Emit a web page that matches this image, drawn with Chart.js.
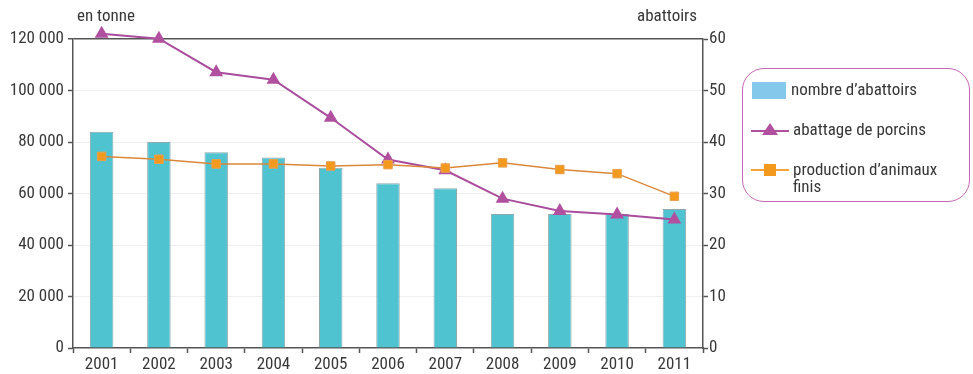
<!DOCTYPE html>
<html lang="fr">
<head>
<meta charset="utf-8">
<script src="https://cdn.jsdelivr.net/npm/chart.js@4/dist/chart.umd.min.js"></script>
<style>
  html, body { margin: 0; padding: 0; background: #fff; }
  #wrap { position: relative; width: 973px; height: 374px; }
  #chart { position: absolute; left: 0; top: 0; }
  .legend {
    position: absolute; left: 742px; top: 68px; width: 228px; height: 134px;
    box-sizing: border-box; border: 1px solid #c566b0; border-radius: 22px;
    font-family: 'Liberation Sans Narrow', 'Arial Narrow', 'Roboto Condensed', sans-serif;
    font-size: 17px; color: #383838;
  }
  .item { position: absolute; left: 8px; display: flex; align-items: flex-start; }
  .item svg { flex: none; }
  .item span { line-height: 17px; margin-left: 4px; }
</style>
</head>
<body>
<div id="wrap">
  <canvas id="chart" width="973" height="374"></canvas>
  <div class="legend">
    <div class="item" style="top:12px"><svg width="36" height="18"><rect x="1" y="1" width="34" height="17" fill="#84c9ec"/></svg><span>nombre d’abattoirs</span></div>
    <div class="item" style="top:52px"><svg width="38" height="18"><line x1="0" y1="10" x2="38" y2="10" stroke="#b0509f" stroke-width="2"/><polygon points="19,2 27,14 11,14" fill="#b0509f"/></svg><span>abattage de porcins</span></div>
    <div class="item" style="top:92px"><svg width="38" height="18"><line x1="0" y1="9" x2="38" y2="9" stroke="#f5a33a" stroke-width="2"/><rect x="13" y="3" width="12" height="12" fill="#f39a1e"/></svg><span>production d’animaux<br>finis</span></div>
  </div>
</div>
<script>
// Years on the horizontal axis
const years = ['2001','2002','2003','2004','2005','2006','2007','2008','2009','2010','2011'];
// Number of slaughterhouses (right axis)
const nombreAbattoirs = [42, 40, 38, 37, 35, 32, 31, 26, 26, 26, 27];
// Pig slaughtering, tonnes (left axis)
const abattagePorcins = [122000, 120100, 107100, 104200, 89400, 73200, 69000, 58000, 53200, 51800, 49900];
// Finished-animal production, tonnes (left axis)
const productionAnimaux = [74400, 73300, 71500, 71500, 70700, 71200, 69900, 71900, 69300, 67700, 58900];
// Axis tick values
const tonneTicks = [0, 20000, 40000, 60000, 80000, 100000, 120000];
const abattoirTicks = [0, 10, 20, 30, 40, 50, 60];

const FONT = "'Liberation Sans Narrow', 'Arial Narrow', 'Roboto Condensed', sans-serif";
const TXT = '#383838';
const AXIS = '#555';

const fmt = v => String(v).replace(/\B(?=(\d{3})+(?!\d))/g, ' ');

// Unit captions above each vertical axis
const unitTitles = {
  id: 'unitTitles',
  afterDraw(chart) {
    const { ctx, chartArea } = chart;
    ctx.save();
    ctx.font = '17px ' + FONT;
    ctx.fillStyle = TXT;
    ctx.textBaseline = 'middle';
    ctx.textAlign = 'left';
    ctx.fillText('en tonne', chartArea.left + 4, 17);
    ctx.textAlign = 'right';
    ctx.fillText('abattoirs', chartArea.right - 6, 17);
    ctx.restore();
  }
};

new Chart(document.getElementById('chart'), {
  data: {
    labels: years,
    datasets: [
      {
        type: 'line',
        label: 'production d’animaux finis',
        data: productionAnimaux,
        yAxisID: 'y',
        borderColor: '#d9883a',
        borderWidth: 1.5,
        pointStyle: 'rect',
        pointRadius: 6,
        pointBackgroundColor: '#f39a1e',
        pointBorderColor: '#e8a050',
        pointBorderWidth: 1,
        tension: 0,
        order: 0,
        clip: false
      },
      {
        type: 'line',
        label: 'abattage de porcins',
        data: abattagePorcins,
        yAxisID: 'y',
        borderColor: '#a94d9c',
        borderWidth: 2,
        pointStyle: 'triangle',
        pointRadius: 8,
        pointBackgroundColor: '#b0509f',
        pointBorderColor: '#b0509f',
        pointBorderWidth: 0,
        tension: 0,
        order: 1,
        clip: false
      },
      {
        type: 'bar',
        label: 'nombre d’abattoirs',
        data: nombreAbattoirs,
        yAxisID: 'y1',
        backgroundColor: '#4fc3d0',
        borderColor: '#8fa9ad',
        borderWidth: 1,
        barPercentage: 0.41,
        categoryPercentage: 1,
        order: 2
      }
    ]
  },
  options: {
    responsive: false,
    animation: false,
    events: [],
    layout: { padding: { top: 39, right: 240, left: 0, bottom: 0 } },
    plugins: { legend: { display: false }, tooltip: { enabled: false } },
    scales: {
      x: {
        offset: true,
        grid: { offset: true, drawOnChartArea: false, tickLength: 5, tickColor: AXIS, tickWidth: 1.5 },
        border: { color: AXIS, width: 1.5 },
        ticks: { color: TXT, font: { family: FONT, size: 17 }, padding: 2, maxRotation: 0 },
        afterFit: s => { s.height = 26; }
      },
      y: {
        position: 'left',
        min: 0, max: 120000,
        afterBuildTicks: s => { s.ticks = tonneTicks.map(v => ({ value: v })); },
        grid: {
          color: c => c.tick.value === 120000 ? AXIS : (c.tick.value === 0 ? 'rgba(0,0,0,0)' : '#efefef'),
          lineWidth: c => c.tick.value === 120000 ? 1.5 : 1,
          tickLength: 5, tickColor: AXIS, tickWidth: 1.5
        },
        border: { color: AXIS, width: 1.5 },
        ticks: { color: TXT, font: { family: FONT, size: 17 }, padding: 4, callback: v => fmt(v) },
        afterFit: s => { s.width = 73; }
      },
      y1: {
        position: 'right',
        min: 0, max: 60,
        afterBuildTicks: s => { s.ticks = abattoirTicks.map(v => ({ value: v })); },
        grid: { drawOnChartArea: false, tickLength: 5, tickColor: AXIS, tickWidth: 1.5 },
        border: { color: AXIS, width: 1.5 },
        ticks: { color: TXT, font: { family: FONT, size: 17 }, padding: 1 },
        afterFit: s => { s.width = 30; }
      }
    }
  },
  plugins: [unitTitles]
});
</script>
</body>
</html>
